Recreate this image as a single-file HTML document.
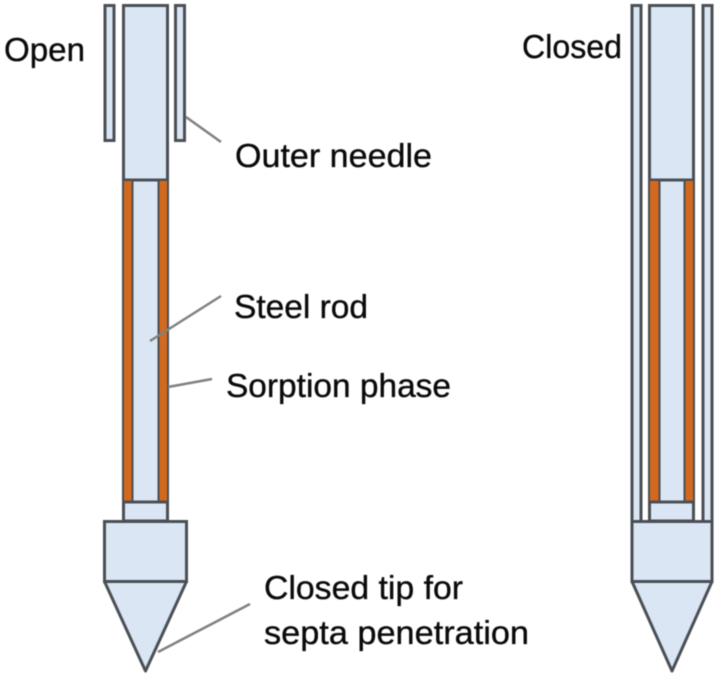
<!DOCTYPE html>
<html><head><meta charset="utf-8"><style>
html,body{margin:0;padding:0;background:#fff;width:719px;height:679px;overflow:hidden}
svg{display:block}
text{font-family:"Liberation Sans",sans-serif;font-size:33px;fill:#0a0a0a;stroke:#0a0a0a;stroke-width:.35px}
.s{fill:#dbe6f4;stroke:#4a4f55;stroke-width:3}
.o{fill:#d2691e}
.l{stroke:#808080;stroke-width:2.5;fill:none}
</style></head><body>
<svg width="719" height="679" viewBox="0 0 719 679" xmlns="http://www.w3.org/2000/svg">
<g style="filter:blur(.5px)">
<!-- Left -->
<rect class="s" x="105" y="5.500" width="9" height="135"/>
<rect class="s" x="175.500" y="5.500" width="9" height="135"/>
<rect class="s" x="123.500" y="5.500" width="44" height="175"/>
<rect class="s" x="123.500" y="180" width="44" height="322"/>
<rect class="o" x="124" y="181" width="8" height="320"/>
<rect class="o" x="159" y="181" width="8" height="320"/>
<path d="M132.500 181V501M158.500 181V501" stroke="#4a4f55" stroke-width="2" fill="none"/>
<rect class="s" x="123.500" y="502" width="44" height="19"/>
<rect class="s" x="104.500" y="521.500" width="82" height="60"/>
<path class="s" stroke-linejoin="round" d="M104.500 581.500H186.500L145.500 671Z"/>
<!-- Right -->
<rect class="s" x="632" y="5.500" width="9" height="516"/>
<rect class="s" x="703" y="5.500" width="9" height="516"/>
<rect class="s" x="649.500" y="5.500" width="44" height="175"/>
<rect class="s" x="649.500" y="180" width="44" height="322"/>
<rect class="o" x="650" y="181" width="9" height="320"/>
<rect class="o" x="685" y="181" width="8" height="320"/>
<path d="M659.500 181V501M684.500 181V501" stroke="#4a4f55" stroke-width="2" fill="none"/>
<rect class="s" x="649.500" y="502" width="44" height="19"/>
<rect class="s" x="632" y="521.500" width="80" height="60"/>
<path class="s" stroke-linejoin="round" d="M632 581.500H712L672 671Z"/>
<!-- Leaders -->
<path class="l" d="M186 117L221 142"/>
<path class="l" d="M150 341L221 296"/>
<path class="l" d="M168 387L212 379"/>
<path class="l" d="M158 652L250 604"/>
<!-- Labels -->
<text x="4" y="61" textLength="81" lengthAdjust="spacingAndGlyphs">Open</text>
<text x="522" y="58" textLength="100" lengthAdjust="spacingAndGlyphs">Closed</text>
<text x="235" y="167" textLength="197" lengthAdjust="spacingAndGlyphs">Outer needle</text>
<text x="234" y="318" textLength="134" lengthAdjust="spacingAndGlyphs">Steel rod</text>
<text x="226" y="397" textLength="225" lengthAdjust="spacingAndGlyphs">Sorption phase</text>
<text x="264" y="599" textLength="199" lengthAdjust="spacingAndGlyphs">Closed tip for</text>
<text x="264" y="644" textLength="265" lengthAdjust="spacingAndGlyphs">septa penetration</text>
</g>
</svg>
</body></html>
